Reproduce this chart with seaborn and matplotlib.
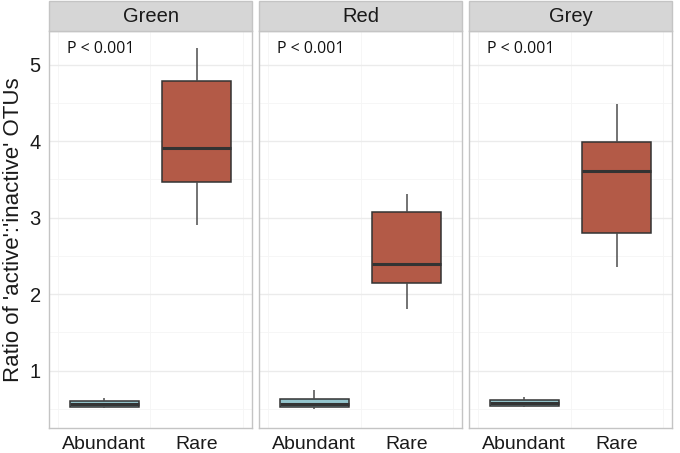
import numpy as np
import pandas as pd
import seaborn as sns
import matplotlib.pyplot as plt
from matplotlib.patches import Rectangle

# five numbers per box: low whisker, Q1, median, Q3, high whisker
sites = ["Green", "Red", "Grey"]
groups = ["Abundant", "Rare"]
green_abundant = [0.51, 0.53, 0.57, 0.60, 0.64]
green_rare = [2.90, 3.47, 3.91, 4.78, 5.22]
red_abundant = [0.50, 0.52, 0.57, 0.63, 0.75]
red_rare = [1.80, 2.14, 2.39, 3.08, 3.31]
grey_abundant = [0.52, 0.54, 0.58, 0.62, 0.65]
grey_rare = [2.36, 2.80, 3.61, 3.99, 4.49]
p_labels = ["P < 0.001", "P < 0.001", "P < 0.001"]

values = {
    ("Green", "Abundant"): green_abundant,
    ("Green", "Rare"): green_rare,
    ("Red", "Abundant"): red_abundant,
    ("Red", "Rare"): red_rare,
    ("Grey", "Abundant"): grey_abundant,
    ("Grey", "Rare"): grey_rare,
}

rows = []
for (site, group), vals in values.items():
    for v in vals:
        rows.append({"site": site, "group": group, "ratio": v})
df = pd.DataFrame(rows)

sns.set_style("white")
plt.rcParams["font.family"] = ["Liberation Sans", "DejaVu Sans"]

palette = {"Abundant": "#93c4cc", "Rare": "#b35a47"}
edge = "#333333"

fig = plt.figure(figsize=(6.8, 4.53), dpi=100)

left = 49 / 680
pw = 203 / 680
gap = 7 / 680
bottom = 1 - 428 / 453
ph = (428 - 31) / 453
strip_h = 30 / 453

axes = []
for i, site in enumerate(sites):
    ax = fig.add_axes([left + i * (pw + gap), bottom, pw, ph],
                      sharey=axes[0] if axes else None)
    axes.append(ax)
    sub = df[df["site"] == site]
    ax.set_axisbelow(True)
    ax.set_yticks([0.5, 1.5, 2.5, 3.5, 4.5], minor=True)
    ax.set_xticks([-0.5, 0.5, 1.5], minor=True)
    ax.grid(which="major", color="#ebebeb", linewidth=1.0)
    ax.grid(which="minor", color="#f5f5f5", linewidth=0.6)
    sns.boxplot(
        data=sub, x="group", y="ratio", hue="group",
        order=groups, hue_order=groups, palette=palette,
        saturation=1, width=0.75, linecolor=edge, linewidth=1.1,
        showfliers=False, showcaps=False, whis=1.5,
        medianprops={"linewidth": 2.2, "color": edge},
        whiskerprops={"color": "#4d4d4d"},
        legend=False, ax=ax,
    )
    ax.set_xlim(-0.6, 1.6)
    ax.set_ylim(0.25, 5.44)
    ax.set_yticks([1, 2, 3, 4, 5])
    ax.set_xlabel("")
    ax.set_ylabel("")
    for s in ax.spines.values():
        s.set_color("#c4c4c4")
        s.set_linewidth(1.0)
    ax.tick_params(axis="x", which="major", length=4, color=edge,
                   labelsize=14, labelcolor="#1a1a1a", pad=2)
    ax.tick_params(axis="y", which="major", length=4, color=edge,
                   labelsize=14.5, labelcolor="#1a1a1a", pad=2)
    ax.tick_params(which="minor", length=0)
    if i > 0:
        ax.tick_params(axis="y", labelleft=False, length=0)

    ax.text(0.09, 0.955, p_labels[i], transform=ax.transAxes,
            fontsize=11.5, family=["Open Sans", "DejaVu Sans"],
            ha="left", va="center", color="#111111")

    # grey strip with facet name
    x0 = left + i * (pw + gap)
    fig.patches.append(Rectangle((x0, bottom + ph), pw, strip_h,
                                 transform=fig.transFigure,
                                 facecolor="#d6d6d6", edgecolor="#c4c4c4",
                                 linewidth=1.0))
    fig.text(x0 + pw / 2, bottom + ph + strip_h / 2, site,
             ha="center", va="center", fontsize=14.5, color="#1a1a1a")

axes[0].set_ylabel("Ratio of 'active':'inactive' OTUs", fontsize=16,
                   color="#1a1a1a", labelpad=4)

fig.savefig("out.png", dpi=100)
